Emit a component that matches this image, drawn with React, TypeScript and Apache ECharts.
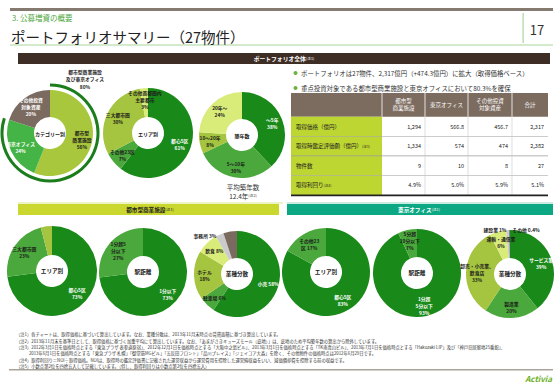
import React, { useEffect, useRef } from "react";
import * as echarts from "echarts";

// ---------------- data ----------------
const pieTitles = ["カテゴリー別", "エリア別", "築年数", "エリア別", "駅距離", "業種分散", "エリア別", "駅距離", "業種分散"];

const categoryNames = ["都市型\n商業施設", "東京オフィス", "その他投資\n対象資産"];
const categoryValues = [56, 24, 20];
const coreShareName = "都市型商業施設\n及び東京オフィス";
const coreShareValues = [80, 20];

const areaNames = ["都心5区", "その他23区", "三大都市圏", "その他首都圏内\n主要都市"];
const areaValues = [61, 7, 30, 3];

const ageNames = ["〜5年", "5〜10年", "10〜20年", "20年〜"];
const ageValues = [38, 30, 8, 24];
const averageAge = 12.4;

const retailAreaNames = ["都心5区", "三大都市圏", "その他首都圏内\n主要都市"];
const retailAreaValues = [73, 23, 4];
const retailStationNames = ["1分以下", "1分超5\n分以下"];
const retailStationValues = [73, 27];
const retailTenantNames = ["小売", "駐車場", "ホテル", "飲食", "事務所", "サービス"];
const retailTenantValues = [58, 6, 18, 8, 3, 5];

const officeAreaNames = ["都心5区", "その他23\n区"];
const officeAreaValues = [83, 17];
const officeStationNames = ["1分超\n5分以下", "5分超\n10分以下"];
const officeStationValues = [93, 7];
const officeTenantNames = ["サービス業", "製造業", "卸売・小売業、\n飲食店", "運輸・通信業", "建設業", "その他"];
const officeTenantValues = [39, 20, 33, 6, 1, 0.4];

const tableColumns = ["都市型\n商業施設", "東京オフィス", "その他投資\n対象資産", "合計"];
const tableRowLabels = ["取得価格（億円）", "取得時鑑定評価額（億円）", "物件数", "取得利回り"];
const tableRowNotes = ["", "(注3)", "", "(注4)"];
const acquisitionPrice = [1294, 566.8, 456.7, 2317];
const appraisalValue = [1334, 574, 474, 2382];
const propertyCount = [9, 10, 8, 27];
const acquisitionYield = [4.9, 5.0, 5.9, 5.1];

const bullets = [
  "ポートフォリオは27物件、2,317億円（+474.3億円）に拡大（取得価格ベース）",
  "重点投資対象である都市型商業施設と東京オフィスにおいて80.3%を確保",
];

const footnotes = [
  "（注1）各チャートは、取得価格に基づいて算出しています。なお、業種分散は、2013年11月末時点の賃貸面積に基づき算出しています。",
  "（注2）2013年11月末を基準日として、取得価格に基づく加重平均にて算出しています。なお、「あまがさきキューズモール（底地）」は、底地のため平均築年数の算出から除外しています。",
  "（注3）2012年3月1日を価格時点とする「東急プラザ 表参道原宿」、2012年12月1日を価格時点とする「大阪中之島ビル」、2013年3月1日を価格時点とする「TK南青山ビル」、2013年7月1日を価格時点とする「Hakozaki LIP」及び「神戸旧居留地25番館」、",
  "　　　2013年6月1日を価格時点とする「東急プラザ 札幌」「御堂筋MGビル」「五反田フロント」「品川プレイス」「ジェイコア大森」を除く、その他物件の価格時点は2012年6月29日です。",
  "（注4）取得利回り＝NOI÷取得価格。NOIは、取得時の鑑定評価書に記載された運営収益から運営費用を控除した運営純収益をいい、減価償却費を控除する前の収益です。",
  "（注5）小数点第2位を四捨五入して記載しています。（但し、取得利回りは小数点第2位を四捨五入）",
];

// ---------------- styles / layout ----------------
const FONT = '"Noto Sans CJK JP", "Noto Sans", sans-serif';
const C = {
  dark: "#198a19",
  mid: "#4aa83c",
  olive: "#a5c43f",
  light: "#d9ec7a",
  brown: "#7b6a5f",
  gray: "#cbcbcb",
  darkgray: "#8a8a8a",
  bright: "#44b446",
  lime: "#a8c73d",
};
const WHITE_ON = new Set([C.dark, C.brown, C.bright]);

const LAYOUT = [
  { center: [50, 133], r: 43 },
  { center: [148, 133], r: 45 },
  { center: [242, 135], r: 43 },
  { center: [52, 271], r: 45 },
  { center: [143, 272], r: 44 },
  { center: [237, 274], r: 43 },
  { center: [326, 272], r: 44 },
  { center: [417, 273], r: 44 },
  { center: [510, 274], r: 44 },
];
const HOLE = 16;

function txt(x: number, y: number, text: string, o: any = {}) {
  return {
    type: "text",
    x,
    y,
    z: 100,
    silent: true,
    style: {
      text,
      fontFamily: FONT,
      fontSize: o.size ?? 6,
      fontWeight: o.bold ? "bold" : "normal",
      fontStyle: o.italic ? "italic" : "normal",
      fill: o.fill ?? "#222",
      align: o.align ?? "left",
      textAlign: o.align ?? "left",
      verticalAlign: o.va ?? "middle",
      textVerticalAlign: o.va ?? "middle",
      lineHeight: o.lh,
      rich: o.rich,
    },
  };
}
function rect(x: number, y: number, w: number, h: number, fill: string) {
  return { type: "rect", z: 10, silent: true, shape: { x, y, width: w, height: h }, style: { fill } };
}

function pie(idx: number, names: string[], values: number[], colors: string[], inline: number[] = [], hide: number[] = []) {
  const L = LAYOUT[idx];
  return {
    type: "pie",
    center: L.center,
    radius: [HOLE, L.r],
    startAngle: 90,
    clockwise: true,
    silent: true,
    avoidLabelOverlap: false,
    emphasis: { disabled: true },
    labelLine: { show: false },
    label: {
      show: true,
      position: "inside",
      fontFamily: FONT,
      fontSize: 4.8,
      fontWeight: "bold",
      lineHeight: 7,
      align: "center",
    },
    itemStyle: { borderWidth: 0 },
    data: names.map((n, i) => ({
      name: n,
      value: values[i],
      itemStyle: { color: colors[i] },
      label: {
        show: !hide.includes(i),
        color: WHITE_ON.has(colors[i]) ? "#fff" : "#1a1a1a",
        formatter: `${n}${inline.includes(i) ? " " : "\n"}${values[i]}%`,
      },
    })),
  };
}

function buildOption() {
  const g: any[] = [];
  // header
  g.push(rect(10, 8, 543, 3, "#857a70"));
  g.push(txt(12, 17, "3. 公募増資の概要", { size: 7.5, fill: "#4ca73a" }));
  g.push(txt(11, 36, "ポートフォリオサマリー（27物件）", { size: 14.5, fill: "#222" }));
  g.push(rect(10, 44.5, 543, 1, "#a9d69a"));
  g.push(rect(522.5, 13, 1.2, 30, "#a9d69a"));
  g.push(txt(537, 29, "17", { size: 13, fill: "#333", align: "center" }));

  g.push(rect(18, 53, 532, 11, "#3e2d25"));
  g.push(
    txt(284, 58.5, "{a|ポートフォリオ全体}{n|(注1)}", {
      align: "center",
      rich: {
        a: { fontFamily: FONT, fontSize: 5.8, fontWeight: "bold", fill: "#fff", color: "#fff" },
        n: { fontFamily: FONT, fontSize: 3.8, fill: "#fff", color: "#fff" },
      },
    })
  );

  // bullets
  bullets.forEach((b, i) => {
    const y = 73 + i * 15;
    g.push({ type: "circle", z: 10, silent: true, shape: { cx: 295.5, cy: y, r: 2 }, style: { fill: "#6db33f" } });
    g.push(txt(301, y, b, { size: 6.4, fill: "#333" }));
  });

  // table
  const xs = [291, 382, 425, 468, 512, 548];
  const top = 93;
  const headH = 23.7;
  const rowH = 19.6;
  g.push(rect(xs[0], top, xs[5] - xs[0], headH, "#7c6b5f"));
  for (let c = 1; c < 5; c++) g.push(rect(xs[c] - 0.4, top, 0.8, headH, "#ffffff"));
  tableColumns.forEach((t, c) => {
    g.push(txt((xs[c + 1] + xs[c + 2]) / 2, top + headH / 2, t, { size: 5.5, fill: "#fff", align: "center", lh: 7 }));
  });
  const rows = [acquisitionPrice, appraisalValue, propertyCount, acquisitionYield];
  const fmt = (r: number, v: number) =>
    r === 3 ? v.toFixed(1) + "%" : v.toLocaleString("en-US");
  rows.forEach((vals, r) => {
    const y0 = top + headH + r * rowH;
    g.push(rect(xs[0], y0, xs[1] - xs[0], rowH, "#bed632"));
    if (r > 0) g.push(rect(xs[0], y0 - 0.3, xs[5] - xs[0], 0.6, "#9a9a9a"));
    const label = tableRowNotes[r]
      ? `{a|${tableRowLabels[r]}}{n|${tableRowNotes[r]}}`
      : `{a|${tableRowLabels[r]}}`;
    g.push(
      txt(296, y0 + rowH / 2, label, {
        rich: {
          a: { fontFamily: FONT, fontSize: 5.5, fill: "#222", color: "#222" },
          n: { fontFamily: FONT, fontSize: 3.5, fill: "#222", color: "#222" },
        },
      })
    );
    vals.forEach((v, c) => {
      g.push(txt(xs[c + 2] - 4, y0 + rowH / 2, fmt(r, v), { size: 5.5, fill: "#222", align: "right" }));
    });
  });
  for (let c = 2; c < 5; c++) g.push(rect(xs[c] - 0.3, top + headH, 0.6, rowH * 4, "#c8c8c8"));
  g.push(rect(xs[0], top + headH + rowH * 4 - 0.5, xs[5] - xs[0], 1.6, "#222"));

  // pie center titles
  pieTitles.forEach((t, i) => {
    g.push(txt(LAYOUT[i].center[0], LAYOUT[i].center[1], t, { size: i < 3 ? 5 : 5.6, bold: true, fill: "#1a1a1a", align: "center" }));
  });
  g.push(txt(85, 78.5, `${coreShareName}\n${coreShareValues[0]}%`, { size: 4.8, bold: true, align: "center", lh: 7.5, fill: "#1a1a1a" }));
  g.push(txt(243, 186.5, "平均築年数", { size: 6.5, fill: "#333", align: "center" }));
  g.push(
    txt(243, 195.5, `{a|${averageAge}年}{n|(注2)}`, {
      align: "center",
      rich: {
        a: { fontFamily: FONT, fontSize: 6.5, fill: "#333", color: "#333" },
        n: { fontFamily: FONT, fontSize: 3.8, fill: "#333", color: "#333" },
      },
    })
  );

  // outside labels of tiny slices
  g.push(txt(205, 235, `${retailTenantNames[4]} ${retailTenantValues[4]}%`, { size: 4.8, bold: true, align: "center", fill: "#1a1a1a" }));
  g.push(txt(495, 229, `${officeTenantNames[4]} ${officeTenantValues[4]}%`, { size: 4.8, bold: true, align: "center", fill: "#1a1a1a" }));
  g.push(txt(526, 229, `${officeTenantNames[5]} ${officeTenantValues[5]}%`, { size: 4.8, bold: true, align: "center", fill: "#1a1a1a" }));

  // section dividers
  g.push(rect(18, 202.3, 265, 1.5, "#e6efb4"));
  g.push(rect(287, 202.3, 266, 1.5, "#b8e4d7"));
  g.push(rect(18, 204, 261, 11, "#c9d72e"));
  g.push(
    txt(150, 209.5, "{a|都市型商業施設}{n|(注1)}", {
      align: "center",
      rich: {
        a: { fontFamily: FONT, fontSize: 5.6, fontWeight: "bold", fill: "#222", color: "#222" },
        n: { fontFamily: FONT, fontSize: 3.8, fill: "#222", color: "#222" },
      },
    })
  );
  g.push(rect(287, 204, 266, 11, "#0ca884"));
  g.push(
    txt(419, 209.5, "{a|東京オフィス}{n|(注1)}", {
      align: "center",
      rich: {
        a: { fontFamily: FONT, fontSize: 5.6, fontWeight: "bold", fill: "#fff", color: "#fff" },
        n: { fontFamily: FONT, fontSize: 3.8, fill: "#fff", color: "#fff" },
      },
    })
  );

  // footnotes
  footnotes.forEach((f, i) => {
    g.push(txt(16, 334.3 + i * 6.3, f, { size: 4.3, fill: "#333" }));
  });
  g.push(rect(9, 369, 544, 1.5, "#aaa39c"));
  g.push(txt(552, 378, "Activia", { size: 8, italic: true, bold: true, fill: "#6ab023", align: "right" }));

  const series: any[] = [
    pie(0, categoryNames, categoryValues, [C.lime, C.bright, C.brown]),
    {
      type: "pie",
      center: LAYOUT[0].center,
      radius: [46.5, 49.5],
      startAngle: 90,
      clockwise: true,
      silent: true,
      emphasis: { disabled: true },
      label: { show: false },
      labelLine: { show: false },
      data: [
        { name: coreShareName, value: coreShareValues[0], itemStyle: { color: "#1b7d1b" } },
        { name: "rest", value: coreShareValues[1], itemStyle: { color: "rgba(0,0,0,0)" } },
      ],
    },
    pie(1, areaNames, areaValues, [C.dark, C.mid, C.olive, C.light]),
    pie(2, ageNames, ageValues, [C.dark, C.mid, C.olive, C.light]),
    pie(3, retailAreaNames, retailAreaValues, [C.dark, C.mid, C.olive]),
    pie(4, retailStationNames, retailStationValues, [C.dark, C.mid]),
    pie(5, retailTenantNames, retailTenantValues, [C.dark, C.mid, C.olive, C.light, C.gray, C.brown], [0, 1, 3], [4]),
    pie(6, officeAreaNames, officeAreaValues, [C.dark, C.mid], [1]),
    pie(7, officeStationNames, officeStationValues, [C.dark, C.mid]),
    pie(8, officeTenantNames, officeTenantValues, [C.dark, C.mid, C.olive, C.light, C.gray, C.darkgray], [], [4, 5]),
  ];

  return {
    animation: false,
    backgroundColor: "#ffffff",
    graphic: { elements: g },
    series,
  };
}

export default function App() {
  const ref = useRef<HTMLDivElement>(null);
  useEffect(() => {
    document.body.style.margin = "0";
    const chart = echarts.init(ref.current!, null, { renderer: "svg" });
    chart.setOption(buildOption() as any);
    return () => chart.dispose();
  }, []);
  return <div ref={ref} style={{ position: "absolute", left: 0, top: 0, width: 560, height: 388, background: "#fff" }} />;
}
